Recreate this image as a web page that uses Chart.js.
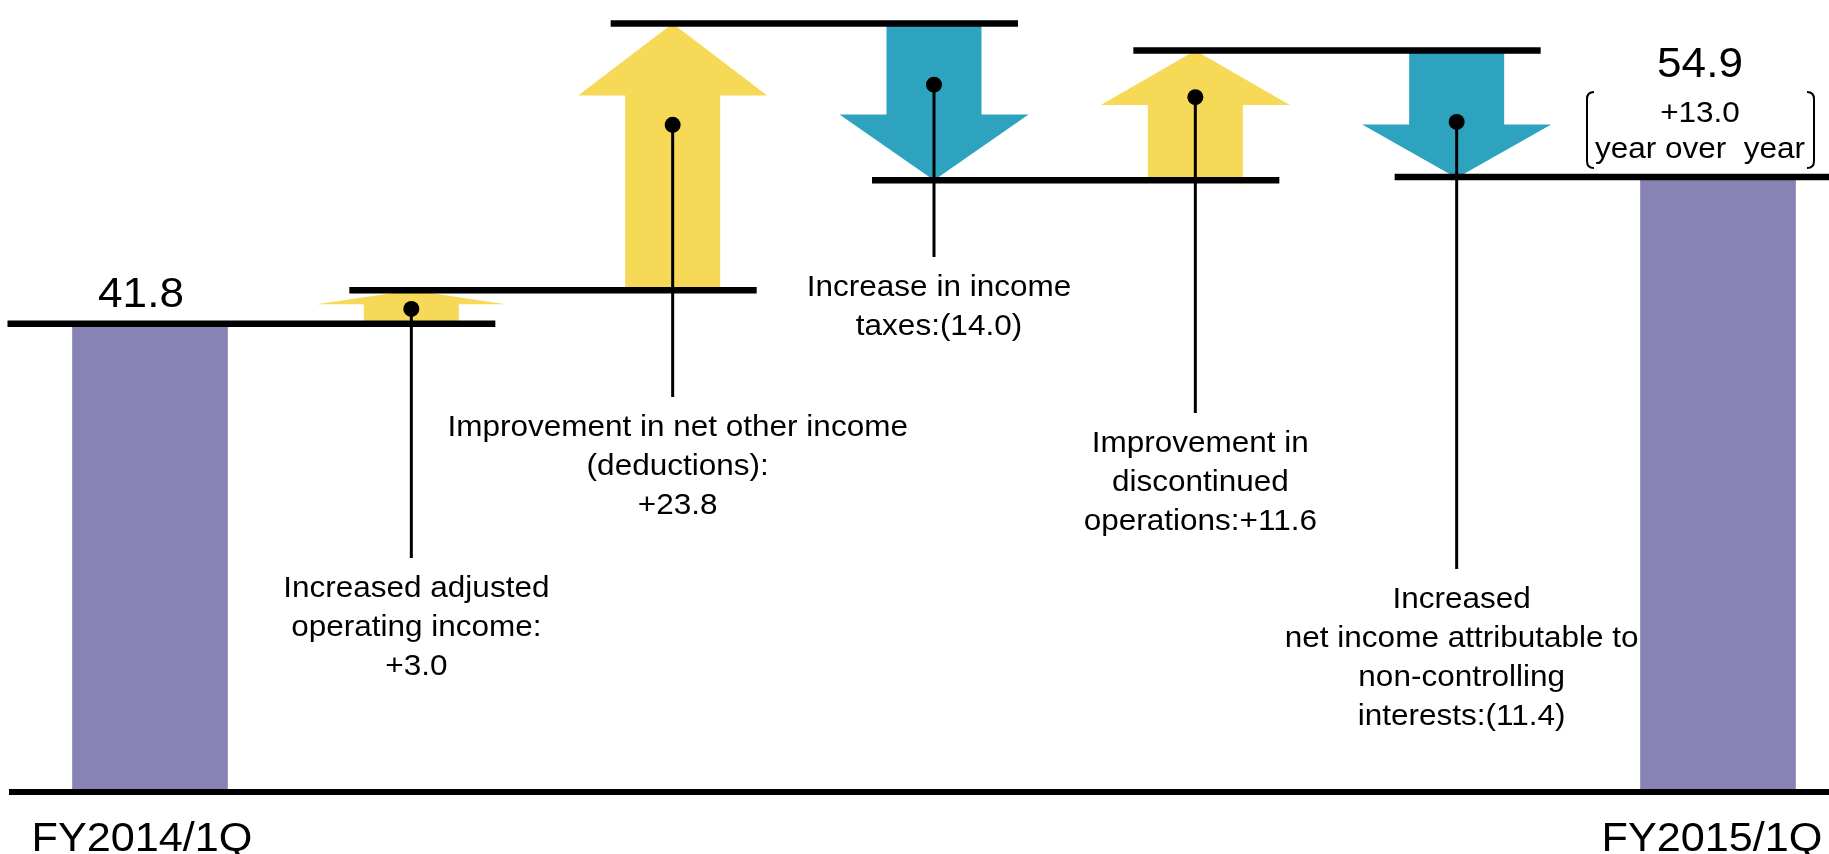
<!DOCTYPE html>
<html>
<head>
<meta charset="utf-8">
<script src="https://cdn.jsdelivr.net/npm/chart.js@4.4.1/dist/chart.umd.min.js"></script>
<style>
  html, body { margin: 0; padding: 0; background: #fff; }
  #wrap { position: relative; width: 1829px; height: 854px; }
</style>
</head>
<body>
<div id="wrap"><canvas id="chart-bridge"></canvas></div>
<script>
/* ── data ── */
const categories = ['FY2014/1Q', 'Adjusted operating income', 'Net other income (deductions)',
  'Income taxes', 'Discontinued operations', 'Non-controlling interests', 'FY2015/1Q'];
const startValue = 41.8;
const endValue = 54.9;
const stepValues = [3.0, 23.8, -14.0, 11.6, -11.4];
const stepLabels = [
  ['Increased adjusted', 'operating income:', '+3.0'],
  ['Improvement in net other income', '(deductions):', '+23.8'],
  ['Increase in income', 'taxes:(14.0)'],
  ['Improvement in', 'discontinued', 'operations:+11.6'],
  ['Increased', 'net income attributable to', 'non-controlling', 'interests:(11.4)'],
];
const yoyLabels = ['+13.0', 'year over  year'];

/* ── callout layout (pixels / fractions, not data) ── */
const stemEnds = [558, 397, 257, 413, 569];
const dotAt = [0.56, 0.38, 0.39, 0.36, 0.56];

const PURPLE = '#8784b5';
const YELLOW = '#f5d957';
const TEAL = '#2ea3bf';
const FONT = '"Liberation Sans", Arial, sans-serif';

// running levels of the bridge
const levels = [startValue];
stepValues.forEach(d => levels.push(Math.round((levels[levels.length - 1] + d) * 10) / 10));

const last = categories.length - 1;
const totals = categories.map((c, i) => i === 0 ? startValue : i === last ? endValue : null);
const steps = categories.map((c, i) => (i > 0 && i < last) ? [levels[i - 1], levels[i]] : null);

function drawText(ctx, str, x, y, size, stretch = 1.05) {
  ctx.save();
  ctx.translate(x, y);
  ctx.scale(stretch, 1);
  ctx.font = size + 'px ' + FONT;
  ctx.fillStyle = '#000';
  ctx.textAlign = 'center';
  ctx.textBaseline = 'middle';
  ctx.fillText(str, 0, 0);
  ctx.restore();
}

const bridgePlugin = {
  id: 'bridge',
  afterDatasetsDraw(chart) {
    const { ctx, scales: { x, y } } = chart;
    const px = v => y.getPixelForValue(v);
    const totalMeta = chart.getDatasetMeta(0);
    const stepMeta = chart.getDatasetMeta(1);

    // ── arrows ──
    stepValues.forEach((d, i) => {
      const el = stepMeta.data[i + 1];
      const cx = el.x, half = el.width / 2, wing = el.width * 0.995;
      const yTail = px(levels[i]), yTip = px(levels[i + 1]);
      const dir = yTip < yTail ? -1 : 1;
      const head = Math.min(Math.abs(yTip - yTail) * 0.42, 72);
      const yNeck = yTip - dir * head;
      ctx.save();
      ctx.fillStyle = d >= 0 ? YELLOW : TEAL;
      ctx.beginPath();
      ctx.moveTo(cx - half, yTail);
      ctx.lineTo(cx - half, yNeck);
      ctx.lineTo(cx - wing, yNeck);
      ctx.lineTo(cx, yTip);
      ctx.lineTo(cx + wing, yNeck);
      ctx.lineTo(cx + half, yNeck);
      ctx.lineTo(cx + half, yTail);
      ctx.closePath();
      ctx.fill();
      ctx.restore();
    });

    // ── level lines + baseline ──
    ctx.save();
    ctx.strokeStyle = '#000';
    ctx.lineWidth = 6.5;
    levels.forEach((lv, i) => {
      const t0 = totalMeta.data[0];
      const xa = i === 0 ? t0.x - t0.width / 2 - 65 : x.getPixelForValue(i) - 62;
      const xb = i === levels.length - 1 ? chart.width : x.getPixelForValue(i + 1) + 84;
      const yy = px(i === levels.length - 1 ? endValue : lv);
      ctx.beginPath(); ctx.moveTo(xa, yy); ctx.lineTo(xb, yy); ctx.stroke();
    });
    ctx.lineWidth = 6;
    ctx.beginPath(); ctx.moveTo(9, px(0)); ctx.lineTo(chart.width, px(0)); ctx.stroke();

    // ── callouts ──
    ctx.fillStyle = '#000';
    ctx.lineWidth = 3;
    stepValues.forEach((d, i) => {
      const cx = x.getPixelForValue(i + 1);
      const a = px(levels[i]), b = px(levels[i + 1]);
      const top = Math.min(a, b), bot = Math.max(a, b);
      const dy = top + dotAt[i] * (bot - top);
      ctx.beginPath(); ctx.moveTo(cx, dy); ctx.lineTo(cx, stemEnds[i]); ctx.stroke();
      ctx.beginPath(); ctx.arc(cx, dy, 8, 0, Math.PI * 2); ctx.fill();
      stepLabels[i].forEach((line, j) => drawText(ctx, line, cx + 5, stemEnds[i] + 31 + j * 39, 30));
    });

    // ── totals ──
    const t0 = totalMeta.data[0], t1 = totalMeta.data[last];
    drawText(ctx, startValue.toFixed(1), t0.x - 9, px(startValue) - 28, 42);
    const cxR = t1.x - 18, lvR = px(endValue);
    drawText(ctx, endValue.toFixed(1), cxR, lvR - 112, 42);
    drawText(ctx, yoyLabels[0], cxR, lvR - 63, 30);
    drawText(ctx, yoyLabels[1], cxR, lvR - 27, 30);

    // brackets round the yoy note
    ctx.lineWidth = 2;
    const bl = cxR - 113, br = cxR + 114, bt = lvR - 85, bb = lvR - 9, r = 7;
    ctx.beginPath();
    ctx.moveTo(bl + r, bt); ctx.quadraticCurveTo(bl, bt, bl, bt + r);
    ctx.lineTo(bl, bb - r); ctx.quadraticCurveTo(bl, bb, bl + r, bb);
    ctx.stroke();
    ctx.beginPath();
    ctx.moveTo(br - r, bt); ctx.quadraticCurveTo(br, bt, br, bt + r);
    ctx.lineTo(br, bb - r); ctx.quadraticCurveTo(br, bb, br - r, bb);
    ctx.stroke();

    // category labels
    drawText(ctx, categories[0], t0.x - 8, px(0) + 48, 40, 1.08);
    drawText(ctx, categories[last], t1.x - 6, px(0) + 48, 40, 1.08);
    ctx.restore();
  }
};

new Chart(document.getElementById('chart-bridge'), {
  type: 'bar',
  data: {
    labels: categories,
    datasets: [{
      label: 'Net income',
      data: totals,
      backgroundColor: PURPLE,
      barThickness: 155,
      grouped: false,
      clip: false,
    }, {
      label: 'Change',
      data: steps,
      backgroundColor: 'rgba(0,0,0,0)',
      barThickness: 95,
      grouped: false,
      clip: false,
    }]
  },
  options: {
    responsive: true, maintainAspectRatio: false, animation: false,
    layout: { padding: { left: 150, right: 111, top: 0, bottom: 62 } },
    plugins: { legend: { display: false }, tooltip: { enabled: false } },
    scales: {
      x: { display: false, offset: false },
      y: { display: false, min: 0, max: 70.7 }
    }
  },
  plugins: [bridgePlugin]
});
</script>
</body>
</html>
